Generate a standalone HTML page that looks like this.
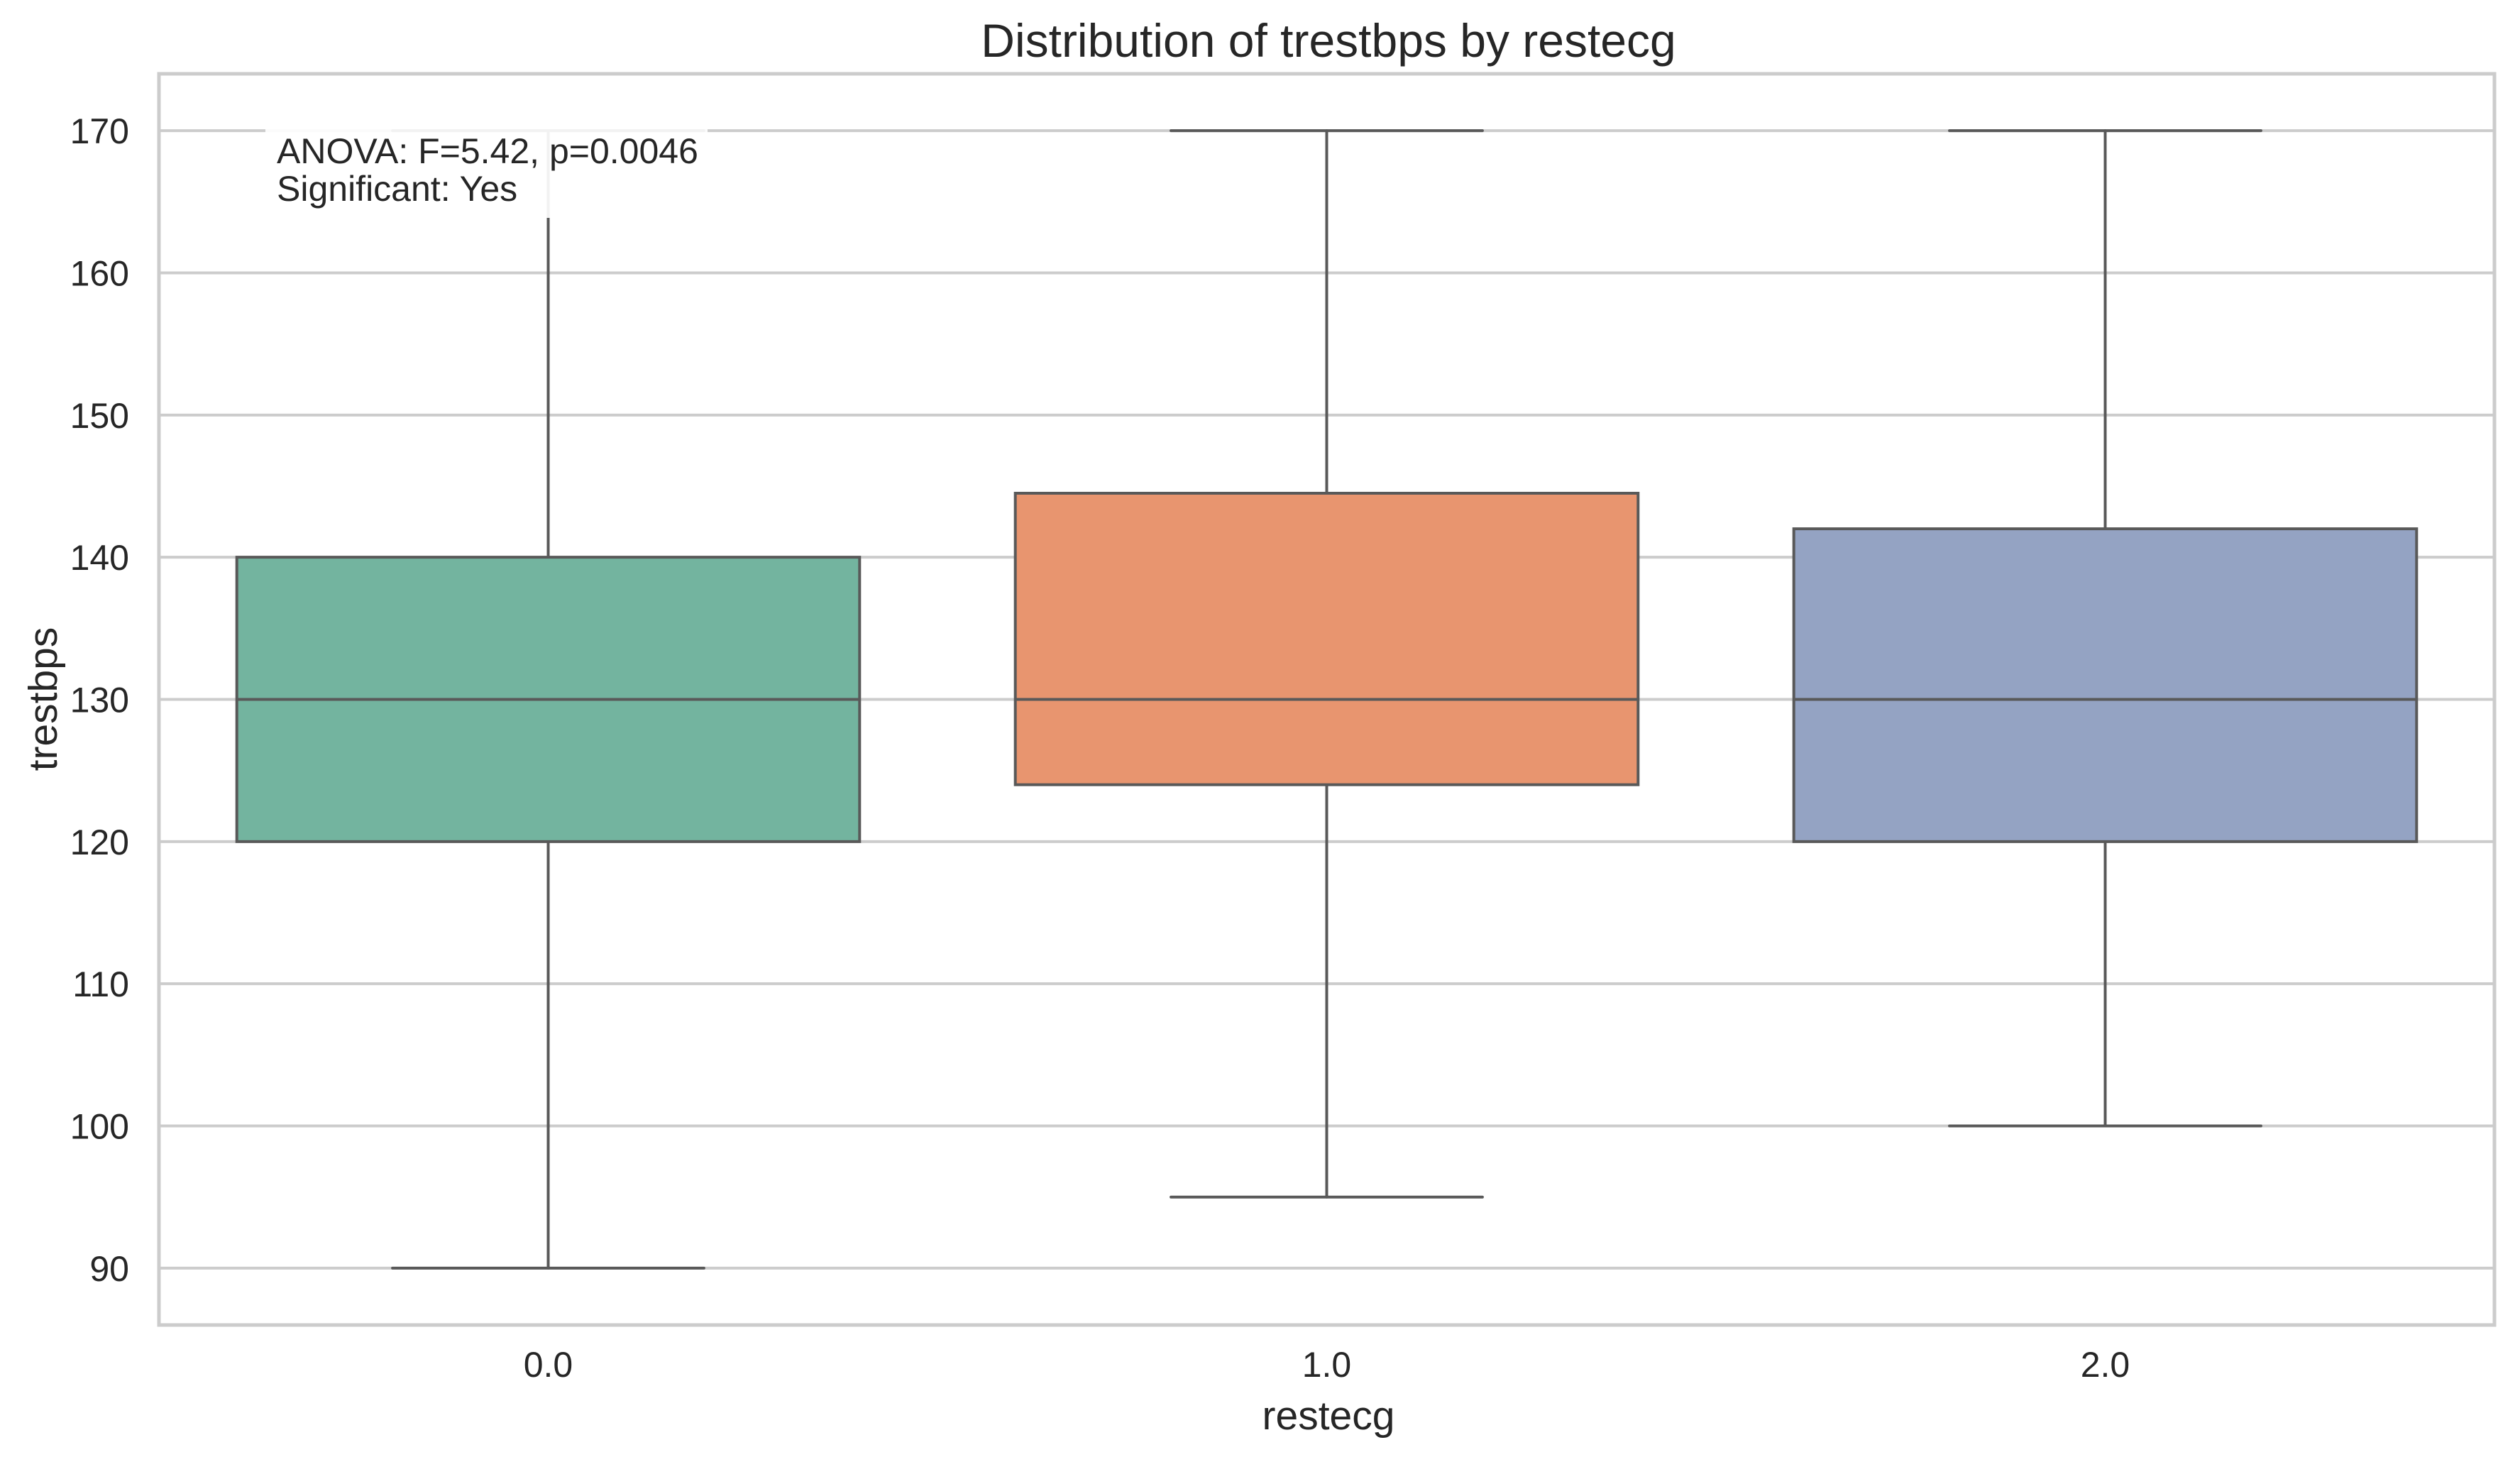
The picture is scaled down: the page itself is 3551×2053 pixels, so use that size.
<!DOCTYPE html>
<html><head><meta charset="utf-8"><style>
html,body{margin:0;padding:0;background:#fff;}
svg{display:block;font-family:"Liberation Sans",Arial,sans-serif;}
</style></head><body>
<svg id="chart" width="3551" height="2053" viewBox="0 0 3551 2053" xmlns="http://www.w3.org/2000/svg">
<rect x="0" y="0" width="3551" height="2053" fill="#fff"/>
<g id="grid"></g>
<g id="boxes"></g>
<g id="yticks"></g>
<g id="xticks"></g>
<rect x="224" y="104" width="3291" height="1763" fill="none" stroke="#cccccc" stroke-width="5"/>
<text x="1872" y="80" font-size="66" fill="#262626" text-anchor="middle">Distribution of trestbps by restecg</text>
<text x="1872" y="2014" font-size="57" fill="#262626" text-anchor="middle">restecg</text>
<text transform="translate(80,985) rotate(-90)" font-size="57" fill="#262626" text-anchor="middle">trestbps</text>
<g>
<rect x="374" y="182" width="623" height="125" fill="#fff" fill-opacity="0.92"/>
<text x="390" y="230" font-size="50" fill="#262626">ANOVA: F=5.42, p=0.0046</text>
<text x="390" y="283" font-size="50" fill="#262626">Significant: Yes</text>
</g>
</svg>
<script>
const categories = ["0.0", "1.0", "2.0"];
const whiskerLow = [90, 95, 100];
const q1Values = [120, 124, 120];
const medianValues = [130, 130, 130];
const q3Values = [140, 144.5, 142];
const whiskerHigh = [170, 170, 170];
const yTicks = [90, 100, 110, 120, 130, 140, 150, 160, 170];
const boxColors = ["#73b49f", "#e8956f", "#94a3c3"];

const NS = "http://www.w3.org/2000/svg";
const L = 224, R = 3515, T = 104, B = 1867;
const yMin = 86, yMax = 174;
function yScale(v){ return T + (yMax - v) / (yMax - yMin) * (B - T); }
const band = (R - L) / categories.length;
function xScale(i){ return L + band * (i + 0.5); }
function mk(tag, attrs, parent){
  const e = document.createElementNS(NS, tag);
  for (const k in attrs) e.setAttribute(k, attrs[k]);
  parent.appendChild(e);
  return e;
}
const grid = document.getElementById('grid');
const yt = document.getElementById('yticks');
yTicks.forEach(v => {
  const y = yScale(v);
  const g = mk('line', {x1: L, x2: R, y1: y, y2: y, stroke: '#cccccc', 'stroke-width': 4}, grid);
  
  
  const t = mk('text', {x: 182, y: y + 18, 'font-size': 50, fill: '#262626', 'text-anchor': 'end'}, yt);
  t.textContent = v;
  
  
});
const xt = document.getElementById('xticks');
const boxes = document.getElementById('boxes');
categories.forEach((c, i) => {
  const cx = xScale(i);
  const t = mk('text', {x: cx, y: 1940, 'font-size': 50, fill: '#262626', 'text-anchor': 'middle'}, xt);
  t.textContent = c;
  
  
  const g = mk('g', {}, boxes);
  
  
  const bw = band * 0.8, cw = band * 0.4;
  const st = {stroke: '#595959', 'stroke-width': 4, 'stroke-linecap': 'round'};
  const w1 = mk('line', Object.assign({x1: cx, x2: cx, y1: yScale(whiskerLow[i]), y2: yScale(q1Values[i])}, st), g);
  
  
  const w2 = mk('line', Object.assign({x1: cx, x2: cx, y1: yScale(q3Values[i]), y2: yScale(whiskerHigh[i])}, st), g);
  
  
  const c1 = mk('line', Object.assign({x1: cx - cw/2, x2: cx + cw/2, y1: yScale(whiskerLow[i]), y2: yScale(whiskerLow[i])}, st), g);
  
  
  const c2 = mk('line', Object.assign({x1: cx - cw/2, x2: cx + cw/2, y1: yScale(whiskerHigh[i]), y2: yScale(whiskerHigh[i])}, st), g);
  
  
  const r = mk('rect', {x: cx - bw/2, y: yScale(q3Values[i]), width: bw, height: yScale(q1Values[i]) - yScale(q3Values[i]), fill: boxColors[i], stroke: '#595959', 'stroke-width': 4}, g);
  
  
  const m = mk('line', {x1: cx - bw/2, x2: cx + bw/2, y1: yScale(medianValues[i]), y2: yScale(medianValues[i]), stroke: '#595959', 'stroke-width': 4}, g);
  
  
});
</script>
</body></html>
